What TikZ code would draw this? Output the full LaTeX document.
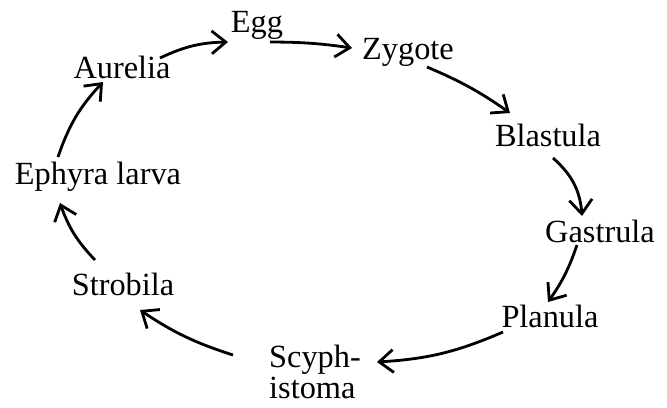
\documentclass[tikz,border=0pt]{standalone}
\usepackage{fontspec}
\setmainfont{Liberation Serif}
\usetikzlibrary{arrows.meta}

\begin{document}
\begin{tikzpicture}[x=0.02cm,y=-0.02cm,->,>={Straight Barb[length=8pt,width=13pt]},line width=1.6pt,
    every node/.style={font=\fontsize{18.4}{18.1}\selectfont,inner sep=2pt}]
    \useasboundingbox (0,0) rectangle (667,407);
    \node (Eg) at (257,25)  {Egg};
    \node (Zy) at (408,52)  {Zygote};
    \node (Bl) at (548,135) {Blastula};
    \node (Ga) at (600,231) {Gastrula};
    \node (Pl) at (550,316) {Planula};
    \node (Sc) [align=left] at (315,372) {Scyph-\\istoma};
    \node (St) at (123,284) {Strobila};
    \node (Ep) at (98,177)  {Ephyra larva};
    \node (Au) at (122,67)  {Aurelia};

    % arrows run from just off one label to just off the next
    \path ([shift={(38,-9)}]Au.center)   edge [bend left=12] ([shift={(-29,17)}]Eg.center)
          ([shift={(13,17)}]Eg.center)   edge [bend left=4]  ([shift={(-56,-4)}]Zy.center)
          ([shift={(19,15)}]Zy.center)   edge [bend left=6]  ([shift={(-38,-22)}]Bl.center)
          ([shift={(5,23)}]Bl.center)    edge [bend left=22] ([shift={(-18,-15)}]Ga.center)
          ([shift={(-23,14)}]Ga.center)  edge [bend left=8]  ([shift={(-2,-14)}]Pl.center)
          ([shift={(-47,16)}]Pl.center)  edge [bend left=10] ([shift={(62,-10)}]Sc.center)
          ([shift={(-82,-17)}]Sc.center) edge [bend left=8]  ([shift={(17,26)}]St.center)
          ([shift={(-28,-24)}]St.center) edge [bend left=12] ([shift={(-38,26)}]Ep.center)
          ([shift={(-40,-20)}]Ep.center) edge [bend left=12] ([shift={(-19,15)}]Au.center);
\end{tikzpicture}
\end{document}
